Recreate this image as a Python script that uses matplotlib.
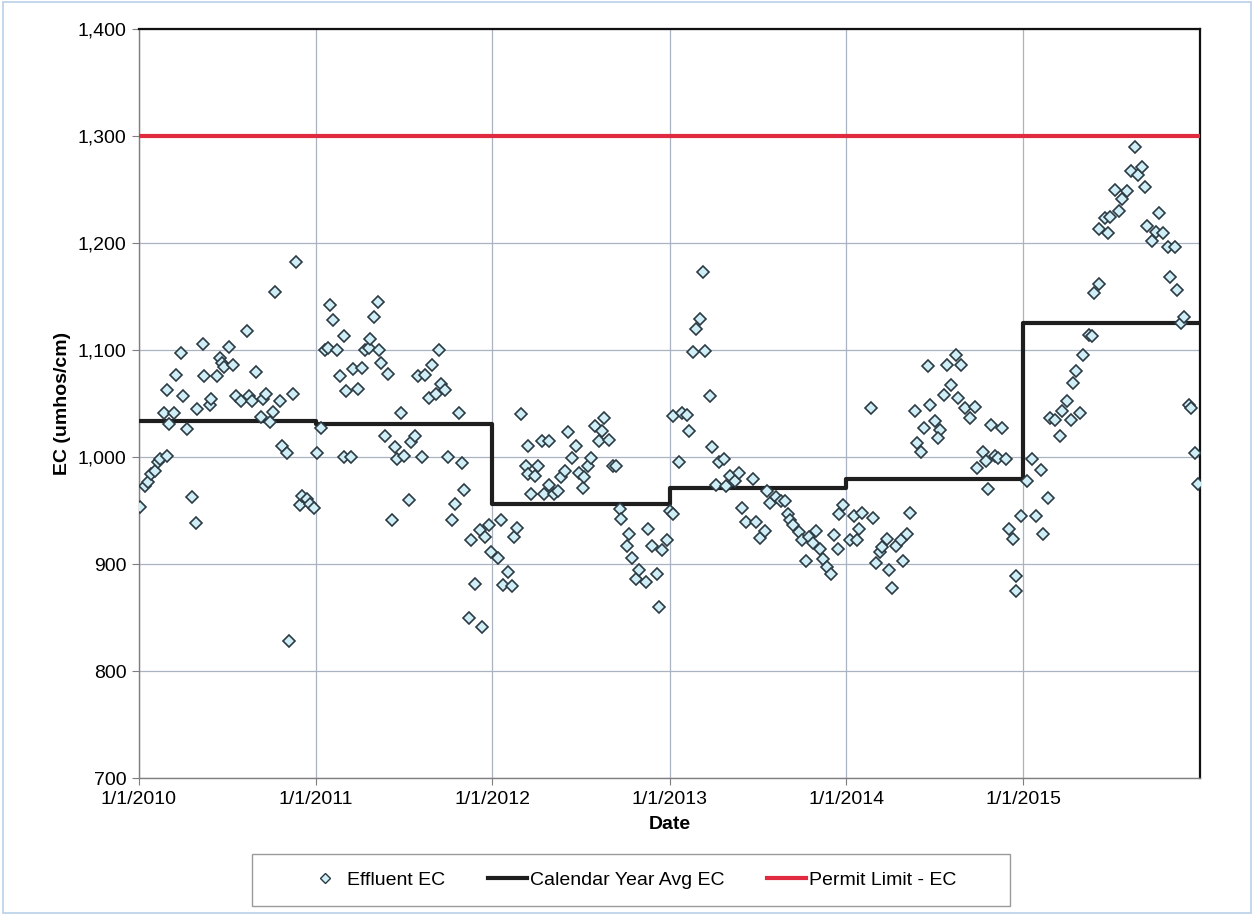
import numpy as np
import pandas as pd
import matplotlib
matplotlib.use("Agg")
import matplotlib.pyplot as plt
from matplotlib.lines import Line2D
from matplotlib.patches import Rectangle
from matplotlib.ticker import FuncFormatter

plt.rcParams['font.family'] = ['Liberation Sans', 'DejaVu Sans']

# Effluent EC samples: position within the calendar year (0-1) and value (umhos/cm)
frac_2010 = [.006, .034, .05, .07, .09, .11, .12, .16, .14, .16, .17, .20, .21, .24, .25, .27, .30, .32,
             .33, .36, .37, .40, .41, .44, .46, .47, .48, .51, .53, .55, .58, .61, .62, .64, .66, .69,
             .70, .72, .74, .76, .77, .80, .81, .84, .85, .87, .89, .91, .92, .95, .97, .99]
ec_2010 = [953, 973, 977, 984, 987, 995, 998, 1001, 1041, 1063, 1031, 1041, 1077, 1097, 1057, 1026, 963, 938,
           1045, 1106, 1076, 1049, 1054, 1076, 1093, 1088, 1084, 1103, 1086, 1057, 1052, 1118, 1057, 1052, 1079, 1037,
           1054, 1059, 1033, 1042, 1154, 1052, 1010, 1004, 828, 1059, 1182, 955, 964, 961, 956, 952]

frac_2011 = [.01, .03, .05, .07, .08, .10, .12, .14, .16, .16, .17, .20, .21, .24, .26, .28, .30, .31, .33,
             .35, .36, .37, .39, .41, .43, .45, .46, .48, .50, .53, .54, .56, .58, .60, .62, .64, .66, .68,
             .70, .71, .73, .75, .77, .79, .81, .83, .84, .88, .90, .87, .93, .94, .96, .98, .99]
ec_2011 = [1004, 1027, 1100, 1102, 1142, 1128, 1100, 1076, 1113, 1000, 1062, 1000, 1082, 1064, 1083, 1100, 1102, 1110, 1131,
           1145, 1100, 1088, 1020, 1078, 941, 1009, 998, 1041, 1001, 960, 1014, 1020, 1076, 1000, 1077, 1055, 1086, 1059,
           1100, 1068, 1063, 1000, 941, 956, 1041, 994, 969, 922, 881, 850, 932, 841, 925, 936, 911]

frac_2012 = [.03, .05, .06, .09, .11, .12, .14, .16, .19, .20, .20, .22, .24, .26, .28, .29, .32, .32, .35,
             .37, .39, .41, .43, .45, .47, .49, .51, .52, .54, .56, .58, .60, .62, .63, .66, .68, .70, .72,
             .73, .77, .76, .79, .81, .83, .87, .88, .90, .93, .94, .96, .99]
ec_2012 = [906, 941, 880, 893, 879, 925, 934, 1040, 992, 1010, 984, 965, 982, 992, 1015, 965, 1015, 974, 965,
           968, 981, 987, 1023, 999, 1010, 985, 971, 981, 992, 999, 1029, 1015, 1024, 1036, 1016, 992, 992, 951,
           942, 928, 917, 906, 886, 894, 883, 933, 917, 891, 860, 913, 922]

frac_2013 = [.00, .02, .02, .05, .07, .10, .11, .13, .15, .17, .19, .20, .23, .24, .26, .28, .31, .32, .34,
             .37, .39, .41, .43, .47, .49, .51, .54, .55, .57, .60, .63, .65, .67, .68, .70, .73, .75, .77,
             .79, .81, .83, .85, .87, .89, .91, .93, .95, .96, .98]
ec_2013 = [950, 947, 1038, 995, 1041, 1039, 1024, 1098, 1120, 1129, 1173, 1099, 1057, 1009, 974, 995, 998, 973, 982,
           978, 985, 952, 939, 979, 939, 924, 931, 968, 957, 963, 959, 959, 947, 941, 936, 930, 922, 903,
           925, 920, 931, 914, 905, 897, 891, 927, 914, 947, 955]

frac_2014 = [.02, .04, .06, .07, .09, .15, .17, .19, .20, .23, .24, .26, .28, .31, .32, .34, .36,
             .14, .39, .40, .42, .44, .46, .47, .50, .53, .52, .55, .57, .59, .62, .63, .65, .67, .70,
             .73, .74, .77, .79, .80, .82, .84, .86, .88, .90, .92, .94, .96, .96, .99]
ec_2014 = [922, 945, 922, 933, 948, 943, 901, 911, 916, 923, 894, 878, 917, 922, 903, 928, 948,
           1046, 1043, 1013, 1005, 1027, 1085, 1049, 1034, 1025, 1018, 1058, 1086, 1067, 1095, 1055, 1086, 1046, 1036,
           1047, 990, 1005, 996, 970, 1030, 1001, 999, 1027, 998, 933, 923, 889, 875, 945]

frac_2015 = [.02, .05, .07, .10, .11, .14, .15, .18, .21, .22, .25, .27, .28, .30, .32, .34, .37, .39,
             .40, .43, .43, .46, .48, .49, .52, .54, .56, .59, .61, .63, .65, .67, .69, .70, .73, .75,
             .77, .79, .82, .86, .83, .87, .89, .91, .94, .95, .97, .99]
ec_2015 = [978, 998, 945, 988, 928, 962, 1036, 1035, 1020, 1043, 1052, 1035, 1069, 1080, 1041, 1095, 1114, 1113,
           1153, 1162, 1213, 1223, 1209, 1224, 1250, 1230, 1241, 1249, 1267, 1290, 1264, 1271, 1252, 1216, 1202, 1210,
           1228, 1209, 1196, 1196, 1168, 1156, 1125, 1131, 1049, 1046, 1004, 975]

# calendar year averages and permit limit
avg_years = [2010, 2011, 2012, 2013, 2014, 2015]
avg_ec = [1034, 1031, 956, 971, 979, 1125]
permit_limit = 1300

samples = {2010: (frac_2010, ec_2010), 2011: (frac_2011, ec_2011), 2012: (frac_2012, ec_2012),
           2013: (frac_2013, ec_2013), 2014: (frac_2014, ec_2014), 2015: (frac_2015, ec_2015)}

dates, values = [], []
for yr, (fr, ec) in samples.items():
    start = pd.Timestamp(f"{yr}-01-01")
    dates.extend(start + pd.to_timedelta(np.array(fr) * 365, unit="D"))
    values.extend(ec)

x_start = pd.Timestamp("2010-01-01")
x_end = pd.Timestamp("2016-01-01")

fig = plt.figure(figsize=(12.54, 9.15), dpi=100)
ax = fig.add_axes([0.1108, 0.1497, 0.8461, 0.8186])

avg_x = [pd.Timestamp(f"{y}-01-01") for y in avg_years] + [x_end]
avg_y = avg_ec + [avg_ec[-1]]
ax.plot(avg_x, avg_y, drawstyle='steps-post', color='#1e1e1e', lw=3, zorder=3)
ax.plot([x_start, x_end], [permit_limit, permit_limit], color='#e02a40', lw=3, zorder=3)
ax.plot(dates, values, linestyle='none', marker='D', ms=6.6, mfc='#cfeef6', mec='#2c3a44',
        mew=1.2, zorder=4)

ax.set_xlim(x_start, x_end)
ax.set_ylim(700, 1400)
ax.set_yticks(range(700, 1401, 100))
ax.yaxis.set_major_formatter(FuncFormatter(lambda v, p: f"{int(v):,}"))
ax.set_xticks([pd.Timestamp(f"{y}-01-01") for y in avg_years])
ax.set_xticklabels([f"1/1/{y}" for y in avg_years])

ax.grid(True, color='#aab3c2', lw=0.9)
ax.set_axisbelow(True)
ax.tick_params(labelsize=14, length=5, color='#7f7f7f', pad=4)
for s in ['top', 'right']:
    ax.spines[s].set_color('#111111')
    ax.spines[s].set_linewidth(1.6)
for s in ['left', 'bottom']:
    ax.spines[s].set_color('#7f7f7f')
    ax.spines[s].set_linewidth(1.0)

ax.set_xlabel('Date', fontsize=14, fontweight='bold', labelpad=6)
ax.set_ylabel('EC (umhos/cm)', fontsize=14, fontweight='bold', labelpad=5)

# legend below the plot in its own box
handles = [
    Line2D([], [], linestyle='none', marker='D', ms=5, mfc='#cfeef6', mec='#2c3a44', mew=1.0),
    Line2D([], [], color='#1e1e1e', lw=3),
    Line2D([], [], color='#e02a40', lw=3),
]
labels = ['Effluent EC', 'Calendar Year Avg EC', 'Permit Limit - EC']
fig.legend(handles, labels, loc='center', bbox_to_anchor=(631 / 1254, 1 - 880 / 915), ncol=3,
           frameon=False, fontsize=14, handlelength=2.0, handletextpad=0.15, columnspacing=2.2)
fig.patches.append(Rectangle((252 / 1254, 1 - 906 / 915), 758 / 1254, 52 / 915, transform=fig.transFigure,
                             fill=False, edgecolor='#9a9a9a', lw=1.0))
fig.patches.append(Rectangle((0.002, 0.002), 0.996, 0.996, transform=fig.transFigure,
                             fill=False, edgecolor='#b9cfe8', lw=1.2))

fig.savefig('out.png', dpi=100)
